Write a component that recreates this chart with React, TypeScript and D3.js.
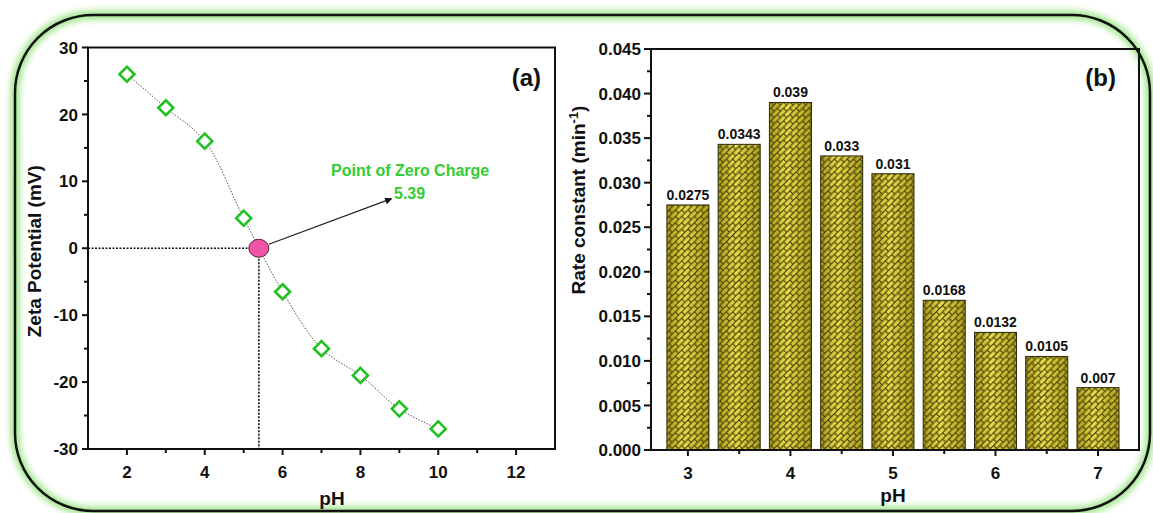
import React from 'react';
import * as d3 from 'd3';

// (a) zeta potential vs pH
const zetaPH = [2, 3, 4, 5, 6, 7, 8, 9, 10];
const zetaMV = [26, 21, 16, 4.5, -6.5, -15, -19, -24, -27];
const pzcPH = 5.39;
const zetaXTicks = [2, 4, 6, 8, 10, 12];
const zetaXMinor = [3, 5, 7, 9, 11];
const zetaYTicks = [-30, -20, -10, 0, 10, 20, 30];
const zetaYMinor = [-25, -15, -5, 5, 15, 25];

// (b) rate constant vs pH
const ratePH = [3, 3.5, 4, 4.5, 5, 5.5, 6, 6.5, 7];
const rateK = [0.0275, 0.0343, 0.039, 0.033, 0.031, 0.0168, 0.0132, 0.0105, 0.007];
const rateLabels = ['0.0275', '0.0343', '0.039', '0.033', '0.031', '0.0168', '0.0132', '0.0105', '0.007'];
const rateXTicks = [3, 4, 5, 6, 7];
const rateXMinor = [3.5, 4.5, 5.5, 6.5];
const rateYTicks = [0, 0.005, 0.01, 0.015, 0.02, 0.025, 0.03, 0.035, 0.04, 0.045];
const rateYMinor = [0.0025, 0.0075, 0.0125, 0.0175, 0.0225, 0.0275, 0.0325, 0.0375, 0.0425];

const W = 1153;
const H = 513;
const FONT = '"Liberation Sans", Arial, sans-serif';
const GREEN = '#33cc33';

export default function App() {
  const xa = d3.scaleLinear().domain([1, 13]).range([88, 555]);
  const ya = d3.scaleLinear().domain([-30, 30]).range([449, 47.5]);
  const xb = d3.scaleLinear().domain([2.64, 7.4]).range([651, 1139]);
  const yb = d3.scaleLinear().domain([0, 0.045]).range([450, 49]);

  const curve = d3
    .line<number>()
    .x((_, i) => xa(zetaPH[i]))
    .y((v) => ya(v))
    .curve(d3.curveCatmullRom.alpha(0.5))(zetaMV) as string;

  const barW = xb(3.41) - xb(3);
  const fmtB = d3.format('.3f');

  const px = xa(pzcPH);
  const py = ya(0);
  const ds = 7.5; // diamond half-diagonal

  return (
    <svg
      width={W}
      height={H}
      style={{ position: 'absolute', left: 0, top: 0, background: '#fff' }}
      fontFamily={FONT}
    >
      <defs>
        <filter id="glow" x="-5%" y="-5%" width="110%" height="110%">
          <feGaussianBlur stdDeviation="3" />
        </filter>
        <linearGradient id="barGrad" x1="0" x2="1" y1="0" y2="0">
          <stop offset="0" stopColor="#a89818" />
          <stop offset="0.4" stopColor="#e8dc4c" />
          <stop offset="1" stopColor="#ad9f1e" />
        </linearGradient>
        <pattern
          id="brick"
          width="9"
          height="9"
          patternUnits="userSpaceOnUse"
          patternTransform="rotate(-45)"
        >
          <g stroke="#4a4208" strokeWidth="1.2" fill="none">
            <line x1="0" y1="0.5" x2="9" y2="0.5" />
            <line x1="0" y1="5" x2="9" y2="5" />
            <line x1="0.5" y1="0.5" x2="0.5" y2="5" />
            <line x1="5" y1="5" x2="5" y2="9.5" />
          </g>
        </pattern>
        <marker
          id="arrow"
          viewBox="0 0 10 10"
          refX="9"
          refY="5"
          markerWidth="9"
          markerHeight="7"
          markerUnits="userSpaceOnUse"
          orient="auto"
        >
          <path d="M0,0 L10,5 L0,10 z" fill="#111" />
        </marker>
      </defs>

      {/* rounded outer frame with soft green halo */}
      <rect x={15} y={15} width={1135} height={496} rx={78} ry={78} fill="none" stroke="#9fe58a" strokeWidth={9} filter="url(#glow)" />
      <rect x={15} y={15} width={1135} height={496} rx={78} ry={78} fill="none" stroke="#111" strokeWidth={2.5} />

      {/* ---------- panel (a) ---------- */}
      <g>
        {/* reference lines to the point of zero charge */}
        <line x1={xa.range()[0]} x2={px} y1={py} y2={py} stroke="#111" strokeWidth={1.6} strokeDasharray="2,1.5" />
        <line x1={px} x2={px} y1={py} y2={ya.range()[0]} stroke="#111" strokeWidth={1.6} strokeDasharray="2,1.5" />

        <path d={curve} fill="none" stroke="#555" strokeWidth={1} strokeDasharray="1.5,1.5" />

        {zetaPH.map((p, i) => {
          const cx = xa(p);
          const cy = ya(zetaMV[i]);
          return (
            <path
              key={p}
              d={`M${cx},${cy - ds} L${cx + ds},${cy} L${cx},${cy + ds} L${cx - ds},${cy} Z`}
              fill="#fff"
              stroke="#22c022"
              strokeWidth={2.6}
            />
          );
        })}

        <line x1={px + 10} y1={py - 4} x2={xa(8.8)} y2={ya(7.4)} stroke="#222" strokeWidth={1.3} markerEnd="url(#arrow)" />
        <ellipse cx={px} cy={py} rx={10} ry={9} fill="#ee55a4" stroke="#5a2040" strokeWidth={1} />

        <text x={331} y={176} fontSize={16} fontWeight="bold" fill={GREEN}>Point of Zero Charge</text>
        <text x={394} y={199} fontSize={16} fontWeight="bold" fill={GREEN}>{pzcPH.toFixed(2)}</text>

        {/* frame */}
        <rect x={xa.range()[0]} y={ya.range()[1]} width={xa.range()[1] - xa.range()[0]} height={ya.range()[0] - ya.range()[1]} fill="none" stroke="#111" strokeWidth={2} />

        {/* y axis */}
        {zetaYTicks.map((t) => (
          <g key={t}>
            <line x1={xa.range()[0] - 6} x2={xa.range()[0]} y1={ya(t)} y2={ya(t)} stroke="#111" strokeWidth={2} />
            <text x={xa.range()[0] - 10} y={ya(t)} dy="0.36em" textAnchor="end" fontSize={17} fontWeight="bold" fill="#111">{t}</text>
          </g>
        ))}
        {zetaYMinor.map((t) => (
          <line key={t} x1={xa.range()[0] - 4} x2={xa.range()[0]} y1={ya(t)} y2={ya(t)} stroke="#111" strokeWidth={2} />
        ))}
        {/* x axis */}
        {zetaXTicks.map((t) => (
          <g key={t}>
            <line x1={xa(t)} x2={xa(t)} y1={ya.range()[0]} y2={ya.range()[0] + 6} stroke="#111" strokeWidth={2} />
            <text x={xa(t)} y={478} textAnchor="middle" fontSize={17} fontWeight="bold" fill="#111">{t}</text>
          </g>
        ))}
        {zetaXMinor.map((t) => (
          <line key={t} x1={xa(t)} x2={xa(t)} y1={ya.range()[0]} y2={ya.range()[0] + 4} stroke="#111" strokeWidth={2} />
        ))}

        <text x={332} y={505} textAnchor="middle" fontSize={19} fontWeight="bold" fill="#111">pH</text>
        <text transform={`translate(41,${(ya.range()[0] + ya.range()[1]) / 2 + 3}) rotate(-90)`} textAnchor="middle" fontSize={19} fontWeight="bold" fill="#111">Zeta Potential (mV)</text>
        <text x={541} y={86} textAnchor="end" fontSize={24} fontWeight="bold" fill="#111">(a)</text>
      </g>

      {/* ---------- panel (b) ---------- */}
      <g>
        {ratePH.map((p, i) => {
          const x0 = xb(p) - barW / 2;
          const y0 = yb(rateK[i]);
          const h = yb(0) - y0;
          return (
            <g key={p}>
              <rect x={x0} y={y0} width={barW} height={h} fill="url(#barGrad)" />
              <rect x={x0} y={y0} width={barW} height={h} fill="url(#brick)" stroke="#2a2a10" strokeWidth={1} />
              <text x={xb(p)} y={y0 - 5} textAnchor="middle" fontSize={14} fontWeight="bold" fill="#111">{rateLabels[i]}</text>
            </g>
          );
        })}

        <rect x={xb.range()[0]} y={yb.range()[1]} width={xb.range()[1] - xb.range()[0]} height={yb.range()[0] - yb.range()[1]} fill="none" stroke="#111" strokeWidth={2} />

        {rateYTicks.map((t) => (
          <g key={t}>
            <line x1={xb.range()[0] - 7} x2={xb.range()[0]} y1={yb(t)} y2={yb(t)} stroke="#111" strokeWidth={2} />
            <text x={xb.range()[0] - 10} y={yb(t)} dy="0.36em" textAnchor="end" fontSize={17} fontWeight="bold" fill="#111">{fmtB(t)}</text>
          </g>
        ))}
        {rateYMinor.map((t) => (
          <line key={t} x1={xb.range()[0] - 4} x2={xb.range()[0]} y1={yb(t)} y2={yb(t)} stroke="#111" strokeWidth={2} />
        ))}
        {rateXTicks.map((t) => (
          <g key={t}>
            <line x1={xb(t)} x2={xb(t)} y1={yb.range()[0]} y2={yb.range()[0] + 6} stroke="#111" strokeWidth={2} />
            <text x={xb(t)} y={479} textAnchor="middle" fontSize={17} fontWeight="bold" fill="#111">{t}</text>
          </g>
        ))}
        {rateXMinor.map((t) => (
          <line key={t} x1={xb(t)} x2={xb(t)} y1={yb.range()[0]} y2={yb.range()[0] + 4} stroke="#111" strokeWidth={2} />
        ))}

        <text x={xb(5)} y={502} textAnchor="middle" fontSize={19} fontWeight="bold" fill="#111">pH</text>
        <text transform="translate(585,200) rotate(-90)" textAnchor="middle" fontSize={19} fontWeight="bold" fill="#111">
          Rate constant (min<tspan dy="-7" fontSize={13}>-1</tspan><tspan dy="7">)</tspan>
        </text>
        <text x={1116} y={86} textAnchor="end" fontSize={24} fontWeight="bold" fill="#111">(b)</text>
      </g>
    </svg>
  );
}
